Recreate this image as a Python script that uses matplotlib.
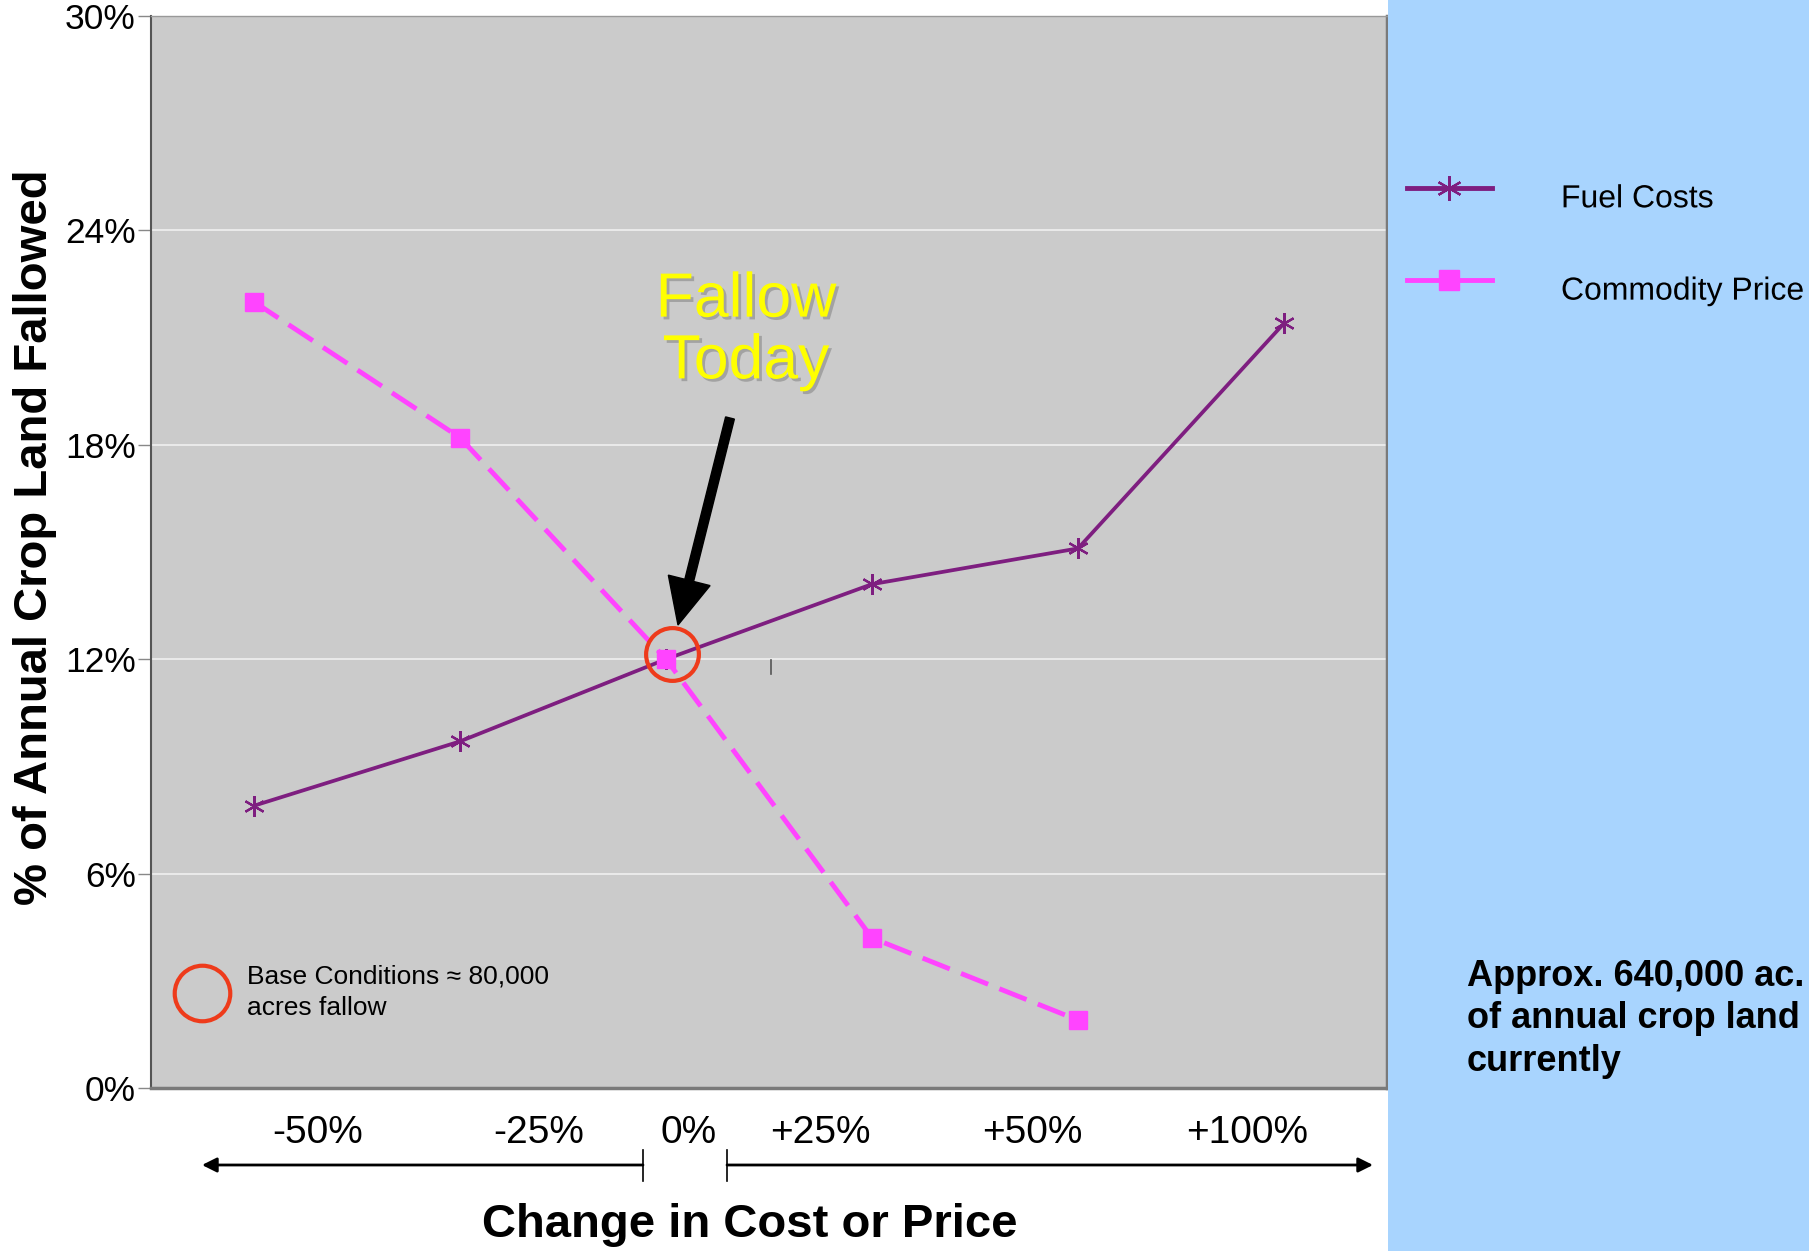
import matplotlib
matplotlib.use('Agg')
import matplotlib.pyplot as plt
from matplotlib.lines import Line2D
from matplotlib.patches import Rectangle, FancyArrow
import matplotlib.patheffects as pe

plt.rcParams['font.family'] = ['Liberation Sans', 'DejaVu Sans']

# ---------------- data ----------------
categories = ['-50%', '-25%', '0%', '+25%', '+50%', '+100%']
fuel_costs = [7.9, 9.7, 12.0, 14.1, 15.1, 21.4]
commodity_price = [22.0, 18.2, 12.0, 4.2, 1.9]
y_ticks = [0, 6, 12, 18, 24, 30]
y_tick_labels = ['0%', '6%', '12%', '18%', '24%', '30%']
base_point = (2.03, 12.15)

# ---------------- layout ----------------
label_pos = [0.31, 1.38, 2.11, 2.75, 3.78, 4.82]
W, H = 1809, 1251
FUEL_C = '#7E1E80'
COMM_C = '#FF44FF'

fig = plt.figure(figsize=(W / 100, H / 100), dpi=100)
fig.patch.set_facecolor('white')
fig.patches.append(Rectangle((1388 / W, 0), 1 - 1388 / W, 1, transform=fig.transFigure,
                             facecolor='#A8D4FE', edgecolor='none', zorder=0))

ax = fig.add_axes([151 / W, 1 - 1088 / H, (1387 - 151) / W, (1088 - 16) / H])
ax.set_facecolor('#CBCBCB')
ax.set_xlim(-0.5, 5.5)
ax.set_ylim(0, 30)

x = list(range(len(categories)))
ax.plot(x, fuel_costs, color=FUEL_C, lw=2.7, marker=(6, 2, 0), ms=15, mew=1.6,
        label='Fuel Costs', zorder=3)
ax.plot(x[:len(commodity_price)], commodity_price, color=COMM_C, lw=3.5,
        dashes=(6, 2.5), marker='s', ms=13, mfc=COMM_C, mec=COMM_C,
        label='Commodity Price', zorder=3)

# base-condition circle
ax.plot([base_point[0]], [base_point[1]], marker='o', ms=38, mfc='none', mec='#EE3B1B',
        mew=3, zorder=4)

# axes styling
ax.set_yticks(y_ticks)
ax.set_yticklabels(y_tick_labels, fontsize=25.5)
ax.tick_params(axis='y', direction='out', length=9.5, width=1, color='#888888', pad=1.5)
ax.yaxis.grid(True, color='#EDEDED', lw=1.3)
ax.set_axisbelow(True)
ax.set_xticks(label_pos)
ax.set_xticklabels(categories, fontsize=28)
ax.tick_params(axis='x', length=0, pad=19.5)
ax.spines['left'].set_color('#555555')
ax.spines['left'].set_linewidth(1.5)
ax.spines['top'].set_color('#999999')
ax.spines['top'].set_linewidth(1)
ax.spines['bottom'].set_color('#7A7A7A')
ax.spines['bottom'].set_linewidth(2.5)
ax.spines['right'].set_color('#7A7A7A')
ax.spines['right'].set_linewidth(2.5)

# axis titles
fig.text(35 / W, 1 - 537 / H, '% of Annual Crop Land Fallowed', rotation=90,
         fontsize=34, fontweight='bold', ha='center', va='center')
fig.text(750 / W, 1 - 1225 / H, 'Change in Cost or Price', fontsize=34,
         fontweight='bold', ha='center', va='center')

# bottom arrows
ax.annotate('', xy=(202, H - 1165), xytext=(643, H - 1165), xycoords='figure pixels',
            textcoords='figure pixels',
            arrowprops=dict(arrowstyle='-|>', color='black', lw=2, mutation_scale=22,
                            shrinkA=0, shrinkB=0))
ax.annotate('', xy=(1373, H - 1165), xytext=(727, H - 1165), xycoords='figure pixels',
            textcoords='figure pixels',
            arrowprops=dict(arrowstyle='-|>', color='black', lw=2, mutation_scale=22,
                            shrinkA=0, shrinkB=0))
for px in (643, 727):
    fig.add_artist(Line2D([px / W, px / W], [1 - 1150 / H, 1 - 1181 / H],
                          transform=fig.transFigure, color='black', lw=1.2))

# Fallow Today label and pointer
fig.text(746 / W, 1 - 331 / H, 'Fallow\nToday', fontsize=45, color='#FFFF00',
         ha='center', va='center', linespacing=1.06, multialignment='center',
         path_effects=[pe.SimplePatchShadow(offset=(2, -2), shadow_rgbFace='#888888', alpha=0.6),
                       pe.Normal()])
fig.patches.append(FancyArrow(7.30, (H - 418) / 100, -0.52, -2.07, width=0.09,
                              head_width=0.43, head_length=0.46, length_includes_head=True,
                              color='black', transform=fig.dpi_scale_trans, zorder=5))
fig.add_artist(Line2D([771 / W, 771 / W], [1 - 660 / H, 1 - 674 / H],
                      transform=fig.transFigure, color='#555555', lw=1.2))

# base conditions note
fig.add_artist(Line2D([202 / W], [1 - 993 / H], transform=fig.transFigure, marker='o',
                      ms=40, mfc='none', mec='#EE3B1B', mew=3))
fig.text(247 / W, 1 - 992 / H, 'Base Conditions \u2248 80,000\nacres fallow', fontsize=19,
         ha='left', va='center', linespacing=1.4)

# legend (solid handle lines, as in the original)
h_fuel = Line2D([], [], color=FUEL_C, lw=3.5, marker=(6, 2, 0), ms=18, mew=1.6)
h_comm = Line2D([], [], color=COMM_C, lw=3.5, marker='s', ms=14, mfc=COMM_C, mec=COMM_C)
leg = fig.legend(handles=[h_fuel, h_comm], labels=['Fuel Costs', 'Commodity Price'],
                 loc='upper left', bbox_to_anchor=(1407 / W, 1 - 176 / H),
                 frameon=False, fontsize=23, handlelength=2.66, handletextpad=2.16,
                 labelspacing=1.95, borderpad=0, borderaxespad=0)
for t in leg.get_texts():
    t.set_path_effects([pe.Stroke(offset=(0, -6), linewidth=0)])

# side note
fig.text(1467 / W, 1 - 1019 / H, 'Approx. 640,000 ac.\nof annual crop land\ncurrently',
         fontsize=26, fontweight='bold', ha='left', va='center', linespacing=1.26)

fig.savefig('out.png', dpi=100)
